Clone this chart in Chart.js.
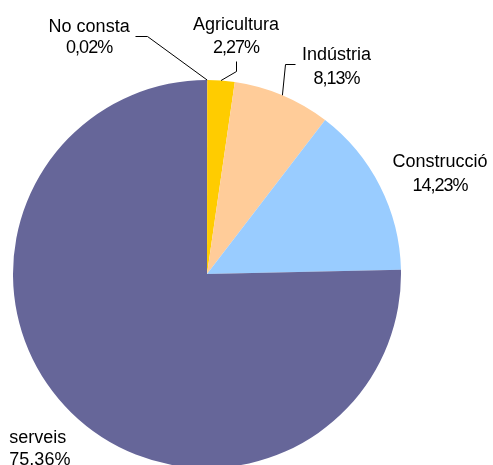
<!DOCTYPE html>
<html>
<head>
<meta charset="utf-8">
<script src="https://cdn.jsdelivr.net/npm/chart.js@4/dist/chart.umd.min.js"></script>
<style>
  html, body { margin: 0; padding: 0; background: #fff; overflow: hidden; }
  #wrap { position: relative; width: 493px; height: 480px; }
</style>
</head>
<body>
<div id="wrap"><canvas id="c"></canvas></div>
<script>
// ---- data ----
const categories = ["No consta", "Agricultura", "Indústria", "Construcció", "serveis"];
const shares = [0.02, 2.27, 8.13, 14.23, 75.36];

// ---- styles ----
const sliceColors = ["#993366", "#FFCC00", "#FFCC99", "#99CCFF", "#666699"];
// label position relative to the slice's outer mid-point: [dx, dy, align, lineGap, pctLetterSpacing]
const labelPlacement = [
  [-118, -48, "center", 21, "-1px"],
  [15, -51, "center", 23, "-1px"],
  [54, -35, "center", 24, "-1px"],
  [60, -19, "center", 24, "-1px"],
  [-62, 30, "left", 22, "0px"]
];
// leader line points relative to the slice's outer mid-point (null = no leader)
const leaders = [[[-60, -44], [-72, -44]], [[15, -10], [15, -20]], [[3, -31], [13, -31]], null, null];

const fontSpec = "18px 'Liberation Sans', Arial, sans-serif";

const labelPlugin = {
  id: "sliceLabels",
  afterDraw(chart) {
    const ctx = chart.ctx;
    const meta = chart.getDatasetMeta(0);
    ctx.save();
    ctx.font = fontSpec;
    ctx.fillStyle = "#000";
    ctx.strokeStyle = "#000";
    ctx.lineWidth = 1;
    meta.data.forEach((arc, i) => {
      const p = arc.getProps(["x", "y", "startAngle", "endAngle", "outerRadius"], true);
      const mid = (p.startAngle + p.endAngle) / 2;
      const ax = p.x + Math.cos(mid) * p.outerRadius;
      const ay = p.y + Math.sin(mid) * p.outerRadius;
      const lead = leaders[i];
      if (lead) {
        ctx.beginPath();
        ctx.moveTo(ax, ay);
        lead.forEach(pt => ctx.lineTo(Math.round(ax + pt[0]) + 0.5, Math.round(ay + pt[1]) + 0.5));
        ctx.stroke();
      }
      const pl = labelPlacement[i];
      ctx.textAlign = pl[2];
      ctx.textBaseline = "alphabetic";
      const lx = ax + pl[0], ly = ay + pl[1];
      const pct = shares[i].toFixed(2).replace(".", ",") + "%";
      ctx.letterSpacing = "0px";
      ctx.fillText(categories[i], lx, ly);
      ctx.letterSpacing = pl[4];
      ctx.fillText(pct, lx, ly + pl[3]);
    });
    ctx.restore();
  }
};

new Chart(document.getElementById("c"), {
  type: "pie",
  data: {
    labels: categories,
    datasets: [{
      data: shares,
      backgroundColor: sliceColors,
      borderWidth: 0,
      hoverOffset: 0
    }]
  },
  options: {
    responsive: true,
    maintainAspectRatio: false,
    animation: false,
    layout: { padding: { left: 13, right: 92, top: 80, bottom: 12 } },
    plugins: { legend: { display: false }, tooltip: { enabled: false } }
  },
  plugins: [labelPlugin]
});
</script>
</body>
</html>
